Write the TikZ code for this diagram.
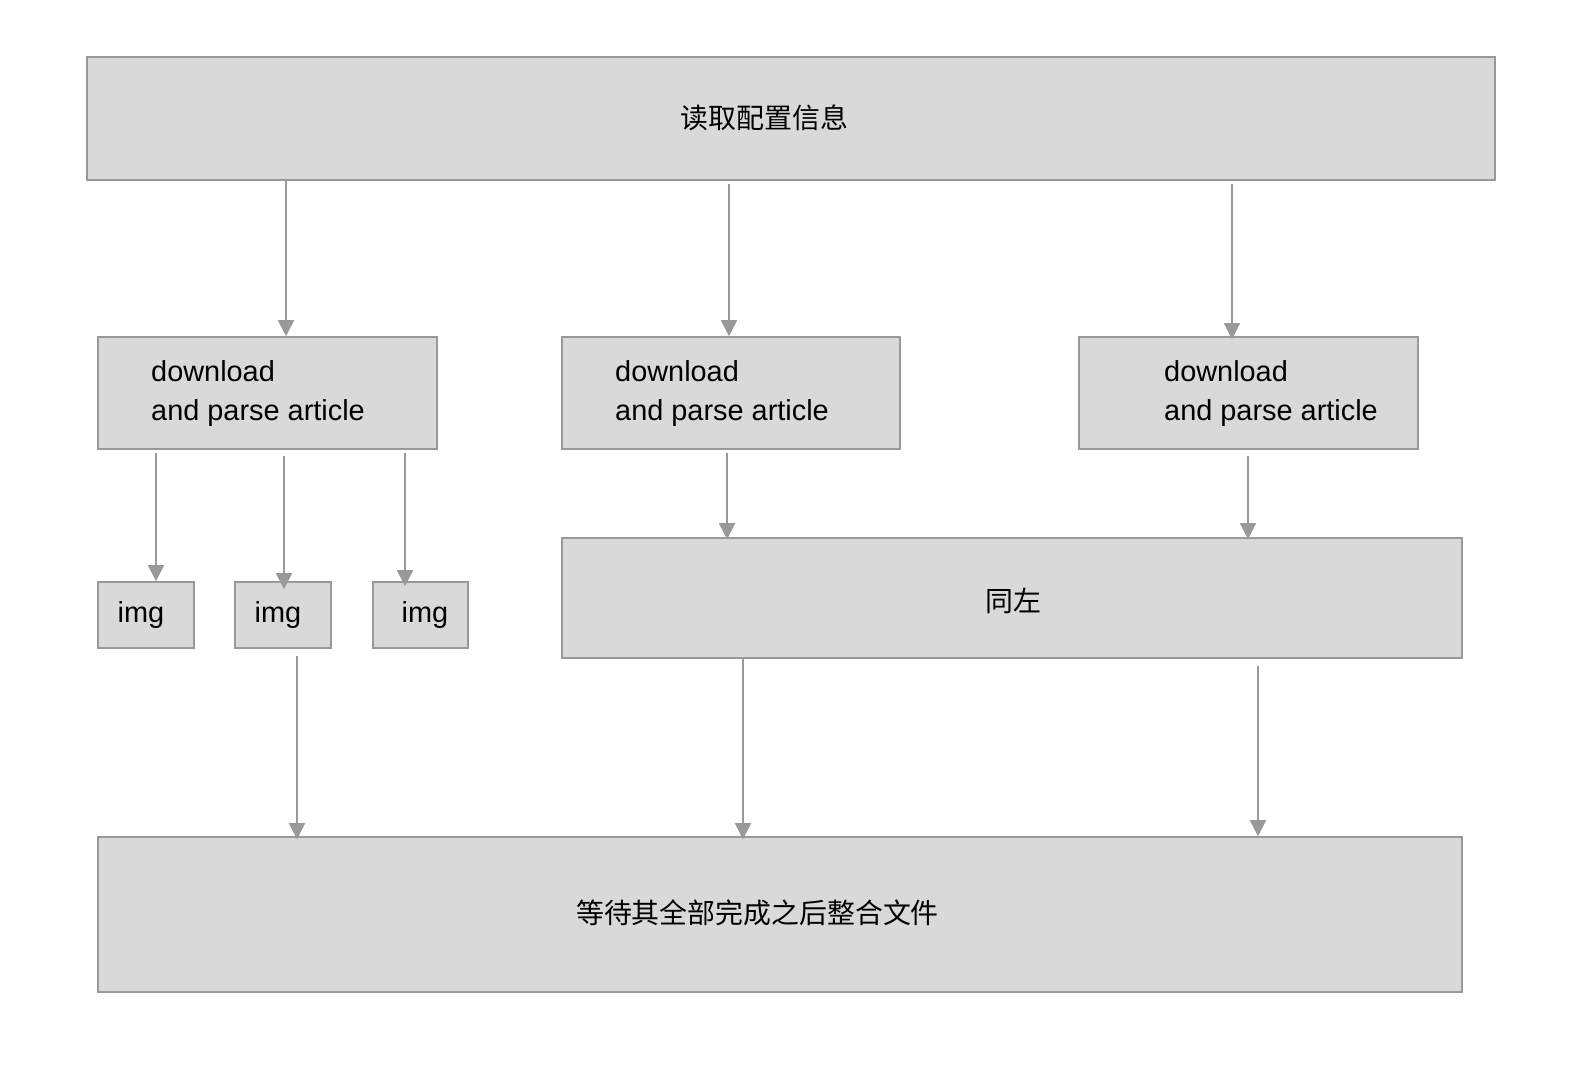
\documentclass[tikz,border=0pt]{standalone}
\usepackage{fontspec}
\setmainfont{Liberation Sans}
\newfontfamily\cjk{Noto Sans CJK SC}
\usetikzlibrary{arrows.meta,positioning}
\definecolor{boxfill}{HTML}{D9D9D9}
\definecolor{boxline}{HTML}{999999}
\begin{document}
\begin{tikzpicture}[x=1bp,y=-1bp,
  box/.style={draw=boxline,fill=boxfill,line width=1.6bp,inner sep=0pt},
  lbl/.style={inner sep=0pt,font=\fontsize{29}{40}\selectfont,text=black},
  zh/.style={inner sep=0pt,font=\cjk\fontsize{28}{34}\selectfont,text=black},
  arr/.style={draw=boxline,line width=1.8bp,-{Triangle[length=16bp,width=16bp]}}]
\useasboundingbox (0,0) rectangle (1576,1074);
% boxes
\node[box,minimum width=1408bp,minimum height=123bp] (top) at (791,118.5) {};
\node[zh] (toptxt) at (764.5,118) {读取配置信息};
\node[box,minimum width=339bp,minimum height=112bp] (a1) at (267.5,393) {};
\node[lbl,anchor=west,align=left] (a1t) at (151,393.5) {download\\and parse article};
\node[box,minimum width=338bp,minimum height=112bp] (a2) at (731,393) {};
\node[lbl,anchor=west,align=left] (a2t) at (615,393.5) {download\\and parse article};
\node[box,minimum width=339bp,minimum height=112bp] (a3) at (1248.5,393) {};
\node[lbl,anchor=west,align=left] (a3t) at (1164,393.5) {download\\and parse article};
\node[box,minimum width=96bp,minimum height=66bp] (i1) at (146,615) {};
\node[lbl] (i1t) at (141,615) {img};
\node[box,minimum width=96bp,minimum height=66bp] (i2) at (283,615) {};
\node[lbl] (i2t) at (278,615) {img};
\node[box,minimum width=95bp,minimum height=66bp] (i3) at (420.5,615) {};
\node[lbl] (i3t) at (425,615) {img};
\node[box,minimum width=900bp,minimum height=120bp] (same) at (1012,598) {};
\node[zh] (samet) at (1013,601) {同左};
\node[box,minimum width=1364bp,minimum height=155bp] (bot) at (780,914.5) {};
\node[zh] (bott) at (757.5,913) {等待其全部完成之后整合文件};
% x positions
\coordinate (x1) at (286,0);
\coordinate (x2) at (729,0);
\coordinate (x3) at (1232,0);
\coordinate (x4) at (156,0);
\coordinate (x5) at (284,0);
\coordinate (x6) at (405,0);
\coordinate (x7) at (727,0);
\coordinate (x8) at (1248,0);
\coordinate (x9) at (297,0);
\coordinate (x10) at (743,0);
\coordinate (x11) at (1258,0);
% arrows
\draw[arr] (top.south -| x1) -- (a1.north -| x1);
\draw[arr,shorten <=3bp] (top.south -| x2) -- (a2.north -| x2);
\draw[arr,shorten <=3bp,shorten >=-3bp] (top.south -| x3) -- (a3.north -| x3);
\draw[arr,shorten <=3bp] (a1.south -| x4) -- (i1.north -| x4);
\draw[arr,shorten <=6bp,shorten >=-8bp] (a1.south -| x5) -- (i2.north -| x5);
\draw[arr,shorten <=3bp,shorten >=-5bp] (a1.south -| x6) -- (i3.north -| x6);
\draw[arr,shorten <=3bp,shorten >=-2bp] (a2.south -| x7) -- (same.north -| x7);
\draw[arr,shorten <=6bp,shorten >=-2bp] (a3.south -| x8) -- (same.north -| x8);
\draw[arr,shorten <=7bp,shorten >=-3bp] (i2.south -| x9) -- (bot.north -| x9);
\draw[arr,shorten >=-3bp] (same.south -| x10) -- (bot.north -| x10);
\draw[arr,shorten <=7bp] (same.south -| x11) -- (bot.north -| x11);
\end{tikzpicture}
\end{document}
